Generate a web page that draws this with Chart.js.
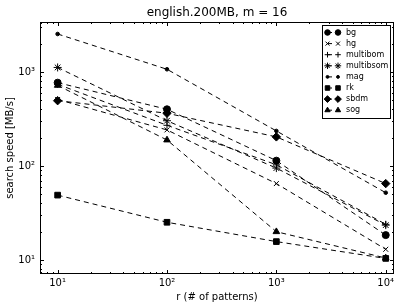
<!DOCTYPE html>
<html>
<head>
<meta charset="utf-8">
<script src="https://cdn.jsdelivr.net/npm/chart.js@4.4.1/dist/chart.umd.min.js"></script>
<style>
html, body { margin: 0; padding: 0; background: #fff; }
</style>
</head>
<body>
<canvas id="myChart" width="406" height="305"></canvas>
<script>
// r values (# of patterns) and search speeds in MB/s
let patterns = [10, 100, 1000, 10000];
let bg = [770, 401, 114, 18.4];
let hg = [510, 242, 65, 13];
let multibom = [740, 271, 103, 24];
let multibsom = [1117, 303, 95, 23.5];
let mag = [2535, 1068, 236, 52];
let rk = [49, 25.2, 15.7, 10.4];
let sbdm = [495, 364, 204, 65];
let sog = [720, 189, 20, 10.5];

let names = ['bg', 'hg', 'multibom', 'multibsom', 'mag', 'rk', 'sbdm', 'sog'];
let series = [bg, hg, multibom, multibsom, mag, rk, sbdm, sog];
let markers = ['circle', 'crossRot', 'cross', 'star', 'circle', 'rect', 'rectRot', 'triangle'];
let markerSizes = [3.5, 3.5, 3.5, 4, 1.8, 4, 4.2, 3.8];

let xTicks = [10, 100, 1000, 10000];
let yTicks = [10, 100, 1000];
let sup = {'0': '⁰', '1': '¹', '2': '²', '3': '³', '4': '⁴'};

let font = '"DejaVu Sans", sans-serif';

function powLabel(v) {
    return '10' + sup[String(Math.round(Math.log10(v)))];
}

let datasets = series.map((s, i) => ({
    label: names[i],
    data: patterns.map((p, j) => ({x: p, y: s[j]})),
    borderColor: '#000',
    backgroundColor: '#000',
    borderWidth: 1,
    borderDash: [5, 4],
    pointStyle: markers[i],
    pointRadius: markerSizes[i],
    pointBorderWidth: 1,
    pointBorderColor: '#000',
    pointBackgroundColor: '#000',
    fill: false,
    tension: 0
}));

// inward ticks on all four sides + box, like matplotlib
let frame = {
    id: 'frame',
    afterDatasetsDraw(chart) {
        let ctx = chart.ctx, a = chart.chartArea;
        let xs = chart.scales.x, ys = chart.scales.y;
        ctx.save();
        ctx.strokeStyle = '#000';
        ctx.lineWidth = 1;
        ctx.setLineDash([]);
        ctx.beginPath();
        for (let d = 1; d <= 10000; d *= 10) {
            for (let k = 1; k < 10; k++) {
                let v = d * k;
                let len = k == 1 ? 4 : 2;
                if (v >= xs.min && v <= xs.max) {
                    let px = Math.round(xs.getPixelForValue(v)) + 0.5;
                    ctx.moveTo(px, a.bottom); ctx.lineTo(px, a.bottom - len);
                    ctx.moveTo(px, a.top); ctx.lineTo(px, a.top + len);
                }
                if (v >= ys.min && v <= ys.max) {
                    let py = Math.round(ys.getPixelForValue(v)) + 0.5;
                    ctx.moveTo(a.left, py); ctx.lineTo(a.left + len, py);
                    ctx.moveTo(a.right, py); ctx.lineTo(a.right - len, py);
                }
            }
        }
        ctx.stroke();
        ctx.strokeRect(a.left + 0.5, a.top + 0.5, a.right - a.left - 1, a.bottom - a.top - 1);
        ctx.restore();
    }
};

// title over the plot area + boxed legend with two markers per entry
let extras = {
    id: 'extras',
    afterDraw(chart) {
        let ctx = chart.ctx, a = chart.chartArea;
        ctx.save();
        ctx.fillStyle = '#000';
        ctx.font = '12px ' + font;
        ctx.textAlign = 'center';
        ctx.textBaseline = 'middle';
        ctx.fillText('english.200MB, m = 16', (a.left + a.right) / 2, 13);

        let x0 = 322, y0 = 25, w = 68, h = 93;
        ctx.fillStyle = '#fff';
        ctx.fillRect(x0, y0, w, h);
        ctx.strokeStyle = '#000';
        ctx.lineWidth = 1;
        ctx.strokeRect(x0 + 0.5, y0 + 0.5, w, h);
        chart.data.datasets.forEach((ds, i) => {
            let y = y0 + 7.5 + i * 11.1;
            ctx.strokeStyle = '#000';
            ctx.fillStyle = '#000';
            ctx.setLineDash([]);
            ctx.beginPath();
            ctx.moveTo(327, y);
            ctx.lineTo(332, y);
            ctx.stroke();
            let opts = {pointStyle: ds.pointStyle, radius: ds.pointRadius * 0.8, borderWidth: 1, rotation: 0};
            Chart.helpers.drawPoint(ctx, opts, 327.5, y);
            Chart.helpers.drawPoint(ctx, opts, 338, y);
            ctx.font = '8px ' + font;
            ctx.textAlign = 'left';
            ctx.textBaseline = 'middle';
            ctx.fillText(ds.label, 346, y);
        });
        ctx.restore();
    }
};

let myChart = document.getElementById('myChart').getContext('2d');

let chart = new Chart(myChart, {
    type: 'line',
    data: { datasets: datasets },
    options: {
        responsive: false,
        animation: false,
        layout: { padding: { top: 22, right: 12, left: 0, bottom: 0 } },
        plugins: {
            legend: { display: false },
            title: { display: false },
            tooltip: { enabled: false }
        },
        scales: {
            x: {
                type: 'logarithmic',
                min: 6.9,
                max: 11900,
                grid: { display: false, drawTicks: false },
                border: { display: false },
                afterBuildTicks: (scale) => { scale.ticks = xTicks.map(v => ({value: v})); },
                afterFit: (scale) => { scale.height = 31; },
                ticks: {
                    color: '#000',
                    padding: 3,
                    font: { family: font, size: 10 },
                    callback: (v) => powLabel(v)
                },
                title: {
                    display: true,
                    text: 'r (# of patterns)',
                    color: '#000',
                    font: { family: font, size: 10 },
                    padding: { top: 0, bottom: 2 }
                }
            },
            y: {
                type: 'logarithmic',
                min: 7.1,
                max: 3400,
                grid: { display: false, drawTicks: false },
                border: { display: false },
                afterBuildTicks: (scale) => { scale.ticks = yTicks.map(v => ({value: v})); },
                afterFit: (scale) => { scale.width = 40; },
                ticks: {
                    color: '#000',
                    padding: 5,
                    font: { family: font, size: 10 },
                    callback: (v) => powLabel(v)
                },
                title: {
                    display: true,
                    text: 'search speed [MB/s]',
                    color: '#000',
                    font: { family: font, size: 10 },
                    padding: { top: 4, bottom: 0 }
                }
            }
        }
    },
    plugins: [frame, extras]
});
</script>
</body>
</html>
